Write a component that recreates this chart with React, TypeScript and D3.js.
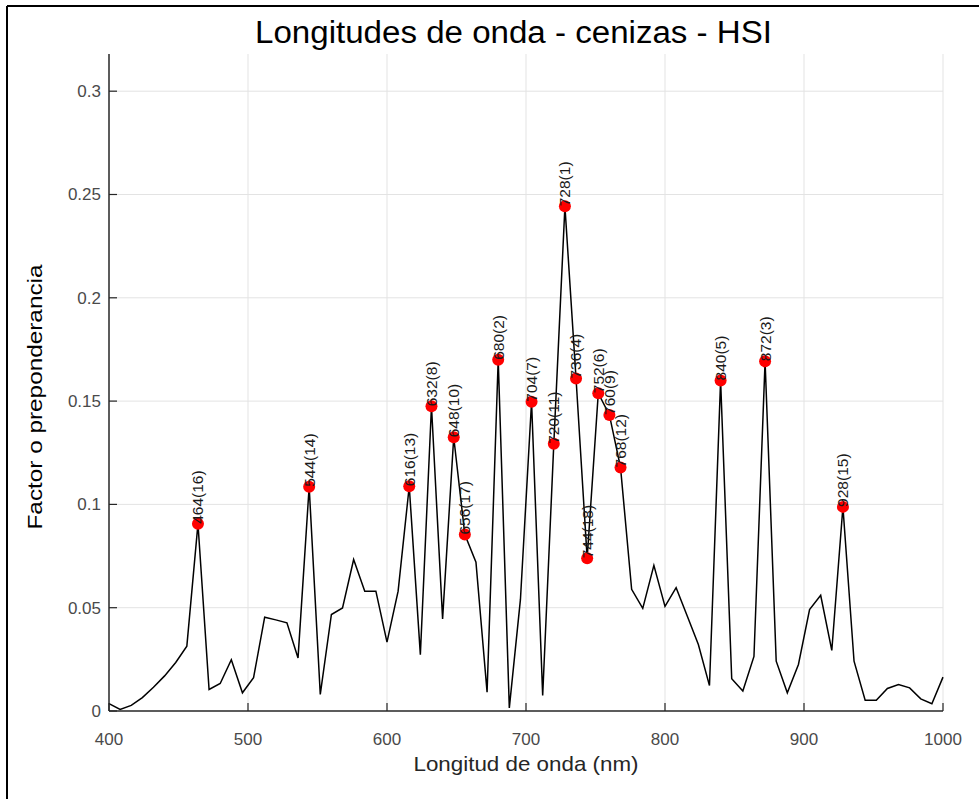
import React from 'react';
import * as d3 from 'd3';

const wavelengths = [
  400, 408, 416, 424, 432, 440, 448, 456, 464, 472,
  480, 488, 496, 504, 512, 520, 528, 536, 544, 552,
  560, 568, 576, 584, 592, 600, 608, 616, 624, 632,
  640, 648, 656, 664, 672, 680, 688, 696, 704, 712,
  720, 728, 736, 744, 752, 760, 768, 776, 784, 792,
  800, 808, 816, 824, 832, 840, 848, 856, 864, 872,
  880, 888, 896, 904, 912, 920, 928, 936, 944, 952,
  960, 968, 976, 984, 992, 1000,
];

const factor = [
  0.0036, 0.0008, 0.0027, 0.0065, 0.0115, 0.017, 0.0235, 0.0314, 0.0906, 0.0104,
  0.0133, 0.0248, 0.0088, 0.0161, 0.0454, 0.0441, 0.0427, 0.0257, 0.1085, 0.008,
  0.0467, 0.0499, 0.0733, 0.058, 0.058, 0.0333, 0.058, 0.1088, 0.0273, 0.1475,
  0.0446, 0.1325, 0.0854, 0.072, 0.0091, 0.17, 0.0015, 0.054, 0.1497, 0.0075,
  0.1293, 0.2443, 0.1609, 0.0739, 0.1538, 0.1433, 0.1179, 0.0589, 0.0497, 0.0705,
  0.0506, 0.0597, 0.046, 0.0322, 0.0123, 0.16, 0.0156, 0.0097, 0.0264, 0.1693,
  0.0241, 0.0088, 0.0225, 0.0491, 0.056, 0.0293, 0.0988, 0.0241, 0.0052, 0.0052,
  0.0109, 0.0128, 0.0112, 0.0059, 0.0035, 0.0164,
];

const peakWavelengths = [464, 544, 616, 632, 648, 656, 680, 704, 720, 728, 736, 744, 752, 760, 768, 840, 872, 928];
const peakRanks = [16, 14, 13, 8, 10, 17, 2, 7, 11, 1, 4, 18, 6, 9, 12, 5, 3, 15];

const xTicks = [400, 500, 600, 700, 800, 900, 1000];
const yTicks = [0, 0.05, 0.1, 0.15, 0.2, 0.25, 0.3];
const yTickLabels = ['0', '0.05', '0.1', '0.15', '0.2', '0.25', '0.3'];

const title = 'Longitudes de onda - cenizas - HSI';
const xLabel = 'Longitud de onda (nm)';
const yLabel = 'Factor o preponderancia';

const FONT = '"Liberation Sans", Arial, Helvetica, sans-serif';

export default function App() {
  const W = 979;
  const H = 799;
  const left = 109, right = 943, top = 54, bottom = 711;
  const x = d3.scaleLinear().domain([400, 1000]).range([left, right]);
  const y = d3.scaleLinear().domain([0, 0.318]).range([bottom, top]);

  const pts: [number, number][] = wavelengths.map((w, i) => [w, factor[i]]);
  const line = d3.line<[number, number]>().x(d => x(d[0])).y(d => y(d[1]));

  const peaks = peakWavelengths.map((w, i) => ({
    w,
    v: factor[wavelengths.indexOf(w)],
    rank: peakRanks[i],
  }));

  const gridColor = '#e3e3e3';
  const axisColor = '#262626';
  const tickTextColor = '#4a4a4a';

  return (
    <div style={{ position: 'fixed', left: 0, top: 0, width: W, height: H, background: '#fff' }}>
      <svg width={W} height={H} style={{ display: 'block' }} fontFamily={FONT}>
        <rect x={0} y={0} width={W} height={H} fill="#fff" />
        {/* outer frame */}
        <line x1={7} y1={6} x2={W + 5} y2={6} stroke="#000" strokeWidth={2} />
        <line x1={7} y1={6} x2={7} y2={H + 5} stroke="#000" strokeWidth={2} />

        {/* grid */}
        {xTicks.slice(1).map(t => (
          <line key={'gx' + t} x1={x(t)} x2={x(t)} y1={top} y2={bottom} stroke={gridColor} strokeWidth={1} />
        ))}
        {yTicks.slice(1).map(t => (
          <line key={'gy' + t} x1={left} x2={right} y1={y(t)} y2={y(t)} stroke={gridColor} strokeWidth={1} />
        ))}

        {/* data line */}
        <path d={line(pts) || ''} fill="none" stroke="#000" strokeWidth={1.5} strokeLinejoin="miter" />

        {/* axes */}
        <line x1={left} x2={left} y1={top} y2={bottom} stroke={axisColor} strokeWidth={1.5} />
        <line x1={left} x2={right} y1={bottom} y2={bottom} stroke={axisColor} strokeWidth={1.5} />
        {yTicks.map(t => (
          <line key={'ty' + t} x1={left} x2={left + 8} y1={y(t)} y2={y(t)} stroke={axisColor} strokeWidth={1.2} />
        ))}
        {xTicks.map(t => (
          <line key={'tx' + t} x1={x(t)} x2={x(t)} y1={bottom} y2={bottom - 8} stroke={axisColor} strokeWidth={1.2} />
        ))}

        {/* tick labels */}
        {yTicks.map((t, i) => (
          <text key={'ly' + t} x={left - 8} y={y(t)} dy="0.35em" textAnchor="end" fontSize={17} fill={tickTextColor}>
            {yTickLabels[i]}
          </text>
        ))}
        {xTicks.map(t => (
          <text key={'lx' + t} x={x(t)} y={bottom + 34} textAnchor="middle" fontSize={17} fill={tickTextColor}>
            {t}
          </text>
        ))}

        {/* peaks */}
        {peaks.map(p => (
          <circle key={'c' + p.w} cx={x(p.w)} cy={y(p.v)} r={6} fill="#ff0000" />
        ))}
        {peaks.map(p => (
          <text
            key={'t' + p.w}
            transform={`translate(${x(p.w)},${y(p.v)}) rotate(-90)`}
            x={0}
            y={0}
            dy="0.35em"
            textAnchor="start"
            fontSize={15.5}
            fill="#1a1a1a"
          >
            {`${p.w}(${p.rank})`}
          </text>
        ))}

        {/* title and labels */}
        <text x={513.5} y={43} textAnchor="middle" fontSize={31} fill="#000" textLength={517} lengthAdjust="spacingAndGlyphs">
          {title}
        </text>
        <text x={526} y={771} textAnchor="middle" fontSize={21} fill="#262626" textLength={225} lengthAdjust="spacingAndGlyphs">
          {xLabel}
        </text>
        <text
          transform={`translate(42,397) rotate(-90)`}
          x={0}
          y={0}
          textAnchor="middle"
          fontSize={21}
          fill="#000"
          textLength={265}
          lengthAdjust="spacingAndGlyphs"
        >
          {yLabel}
        </text>
      </svg>
    </div>
  );
}
